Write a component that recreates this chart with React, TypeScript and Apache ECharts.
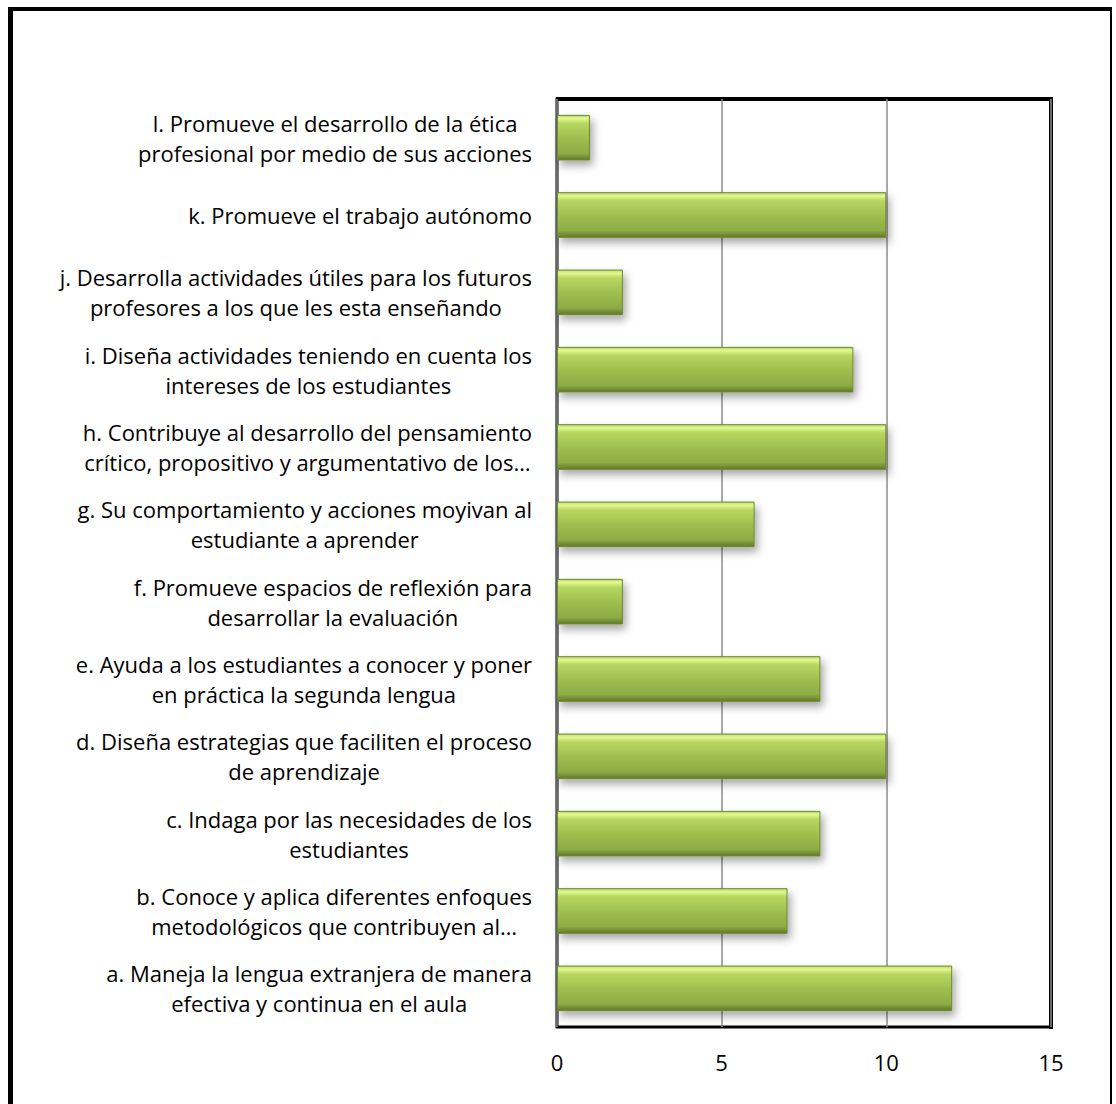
import React, { useEffect, useRef } from "react";
import * as echarts from "echarts";

const categories = [
  "a. Maneja la lengua extranjera de manera\nefectiva y continua en el aula",
  "b. Conoce y aplica diferentes enfoques\nmetodológicos que contribuyen al…",
  "c. Indaga por las necesidades de los\nestudiantes",
  "d. Diseña estrategias que faciliten el proceso\nde aprendizaje",
  "e. Ayuda a los estudiantes a conocer y poner\nen práctica la segunda lengua",
  "f. Promueve espacios de reflexión para\ndesarrollar la evaluación",
  "g. Su comportamiento y acciones moyivan al\nestudiante a aprender",
  "h. Contribuye al desarrollo del pensamiento\ncrítico, propositivo y argumentativo de los…",
  "i. Diseña actividades teniendo en cuenta los\nintereses de los estudiantes",
  "j. Desarrolla actividades útiles para los futuros\nprofesores a los que les esta enseñando",
  "k. Promueve el trabajo autónomo",
  "l. Promueve el desarrollo de la ética\nprofesional por medio de sus acciones",
];
const values = [12, 7, 8, 10, 8, 2, 6, 10, 9, 2, 10, 1];
const xTicks = [0, 5, 10, 15];

export default function App() {
  const ref = useRef<HTMLDivElement>(null);
  useEffect(() => {
    document.body.style.margin = "0";
    const chart = echarts.init(ref.current!, null, { renderer: "svg" });
    const font = "'Open Sans', sans-serif";
    chart.setOption({
      animation: false,
      backgroundColor: "#ffffff",
      grid: { left: 557, top: 99, right: 65, bottom: 77, show: true, borderColor: "#000", borderWidth: 3, backgroundColor: "transparent" },
      xAxis: {
        type: "value",
        min: xTicks[0],
        max: xTicks[xTicks.length - 1],
        interval: 5,
        axisLine: { show: false },
        axisTick: { show: false },
        splitLine: { show: true, lineStyle: { color: "#8c8c8c", width: 1.5 } },
        axisLabel: { color: "#000", fontSize: 22, fontFamily: font, margin: 24 },
      },
      yAxis: {
        type: "category",
        data: categories,
        axisLine: { show: false },
        axisTick: { show: false },
        axisLabel: {
          color: "#000",
          fontSize: 22,
          fontFamily: font,
          lineHeight: 30,
          margin: 25,
          align: "right",
          formatter: (v: string) => v.split("\n").map((l) => `{c|${l}}`).join("\n"),
          rich: { c: { align: "center", fontSize: 22, fontFamily: font, lineHeight: 30, color: "#000" } },
        },
      },
      series: [
        {
          type: "bar",
          data: values,
          barCategoryGap: "41%",
          itemStyle: {
            color: new echarts.graphic.LinearGradient(0, 0, 0, 1, [
              { offset: 0, color: "#b9d66a" },
              { offset: 0.07, color: "#e2f98e" },
              { offset: 0.18, color: "#b8d662" },
              { offset: 0.5, color: "#9fc04f" },
              { offset: 0.85, color: "#8eac45" },
              { offset: 0.95, color: "#6f8a33" },
              { offset: 1, color: "#5d762a" },
            ]),
            borderColor: "#6d8a33",
            borderWidth: 1,
            shadowColor: "rgba(0,0,0,0.35)",
            shadowBlur: 8,
            shadowOffsetX: 3,
            shadowOffsetY: 5,
          },
        },
      ],
      graphic: [
        { type: "rect", shape: { x: 8, y: 7, width: 5, height: 1097 }, style: { fill: "#000" } },
        { type: "rect", shape: { x: 8, y: 7, width: 1104, height: 4 }, style: { fill: "#000" } },
        { type: "rect", shape: { x: 1110, y: 7, width: 2, height: 1097 }, style: { fill: "#000" } },
        { type: "rect", shape: { x: 556, y: 97, width: 497, height: 4 }, style: { fill: "#000" } },
        { type: "rect", shape: { x: 1049, y: 97, width: 4, height: 932 }, style: { fill: "#000" } },
      ],
    });
    return () => chart.dispose();
  }, []);
  return <div ref={ref} style={{ width: 1116, height: 1104 }} />;
}
